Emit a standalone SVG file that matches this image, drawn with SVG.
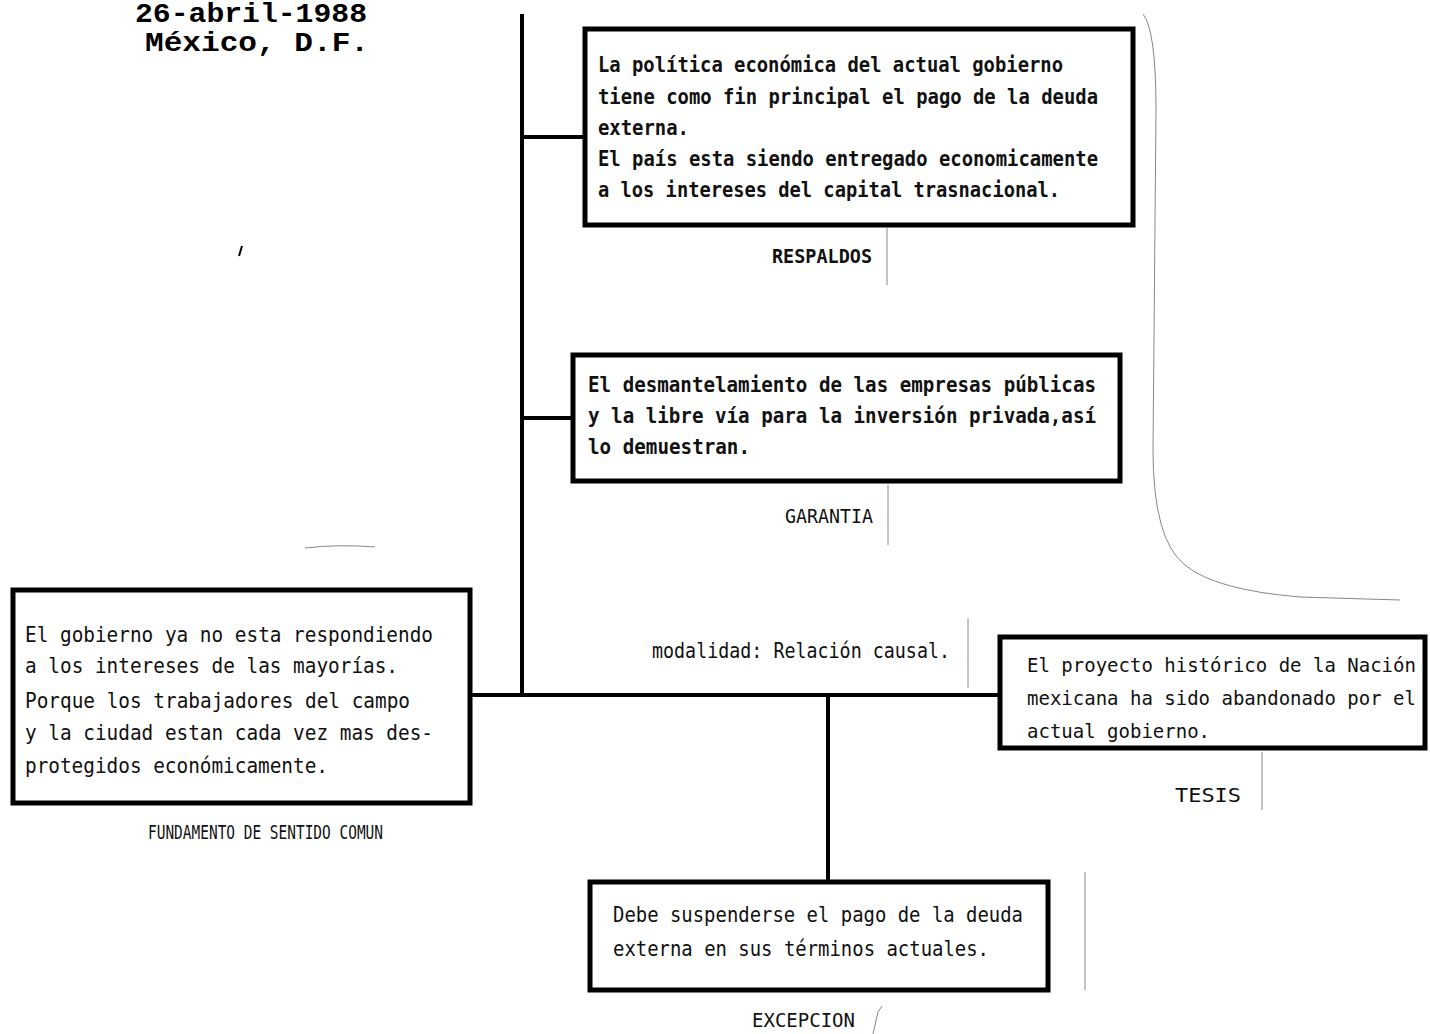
<svg xmlns="http://www.w3.org/2000/svg" width="1430" height="1034" viewBox="0 0 1430 1034">
<style>
.box{fill:#fff;stroke:#000;stroke-width:5}
.ln{stroke:#000;stroke-width:4;fill:none}
.t{font-family:"DejaVu Sans Mono","Liberation Mono",monospace;font-size:21px;fill:#111}
.ts{font-family:"DejaVu Sans Mono","Liberation Mono",monospace;font-size:19px;fill:#111}
.b{font-weight:bold}
.lab{font-family:"DejaVu Sans Mono","Liberation Mono",monospace;font-size:20px;fill:#111}
.hd{font-family:"Liberation Mono","Courier New",monospace;font-size:28px;font-weight:bold;fill:#000}
.faint{stroke:#888;stroke-width:1;fill:none}
</style>
<rect width="1430" height="1034" fill="#fff"/>
<g id="header">
<text class="hd" x="135" y="22" textLength="232" lengthAdjust="spacingAndGlyphs">26-abril-1988</text>
<text class="hd" x="145" y="51" textLength="224" lengthAdjust="spacingAndGlyphs">México, D.F.</text>
</g>
<g id="artifacts">
<path class="faint" d="M1143 14 Q1156 30 1156 110 L1153 450 Q1153 540 1185 565 Q1215 590 1300 597 L1400 600"/>
<path class="faint" d="M887 228 V285 M888 485 V545 M968 618 V688 M1262 752 V810 M1085 872 V990"/>
<path d="M242 246 L239 256" stroke="#000" stroke-width="2"/>
<path class="faint" d="M305 548 Q340 544 375 547"/>
</g>
<g id="connectors">
<path class="ln" d="M522 14 V695"/>
<path class="ln" d="M522 137 H585"/>
<path class="ln" d="M522 418 H573"/>
<path class="ln" d="M470 695 H1000"/>
<path class="ln" d="M828 695 V882"/>
</g>
<g id="n-respaldos">
<rect class="box" x="585" y="29" width="548" height="196"/>
<text class="t b" x="598" y="72" textLength="465" lengthAdjust="spacingAndGlyphs">La política económica del actual gobierno</text>
<text class="t b" x="598" y="104" textLength="500" lengthAdjust="spacingAndGlyphs">tiene como fin principal el pago de la deuda</text>
<text class="t b" x="598" y="135" textLength="91" lengthAdjust="spacingAndGlyphs">externa.</text>
<text class="t b" x="598" y="166" textLength="500" lengthAdjust="spacingAndGlyphs">El país esta siendo entregado economicamente</text>
<text class="t b" x="598" y="197" textLength="462" lengthAdjust="spacingAndGlyphs">a los intereses del capital trasnacional.</text>
<text class="lab b" x="772" y="263" textLength="100" lengthAdjust="spacingAndGlyphs">RESPALDOS</text>
</g>
<g id="n-garantia">
<rect class="box" x="573" y="355" width="547" height="126"/>
<text class="t b" x="588" y="392" textLength="508" lengthAdjust="spacingAndGlyphs">El desmantelamiento de las empresas públicas</text>
<text class="t b" x="588" y="423" textLength="508" lengthAdjust="spacingAndGlyphs">y la libre vía para la inversión privada,así</text>
<text class="t b" x="588" y="454" textLength="162" lengthAdjust="spacingAndGlyphs">lo demuestran.</text>
<text class="lab" x="785" y="523" textLength="88" lengthAdjust="spacingAndGlyphs">GARANTIA</text>
</g>
<g id="n-fundamento">
<rect class="box" x="13" y="590" width="457" height="213"/>
<text class="t" x="25" y="642" textLength="408" lengthAdjust="spacingAndGlyphs">El gobierno ya no esta respondiendo</text>
<text class="t" x="25" y="673" textLength="373" lengthAdjust="spacingAndGlyphs">a los intereses de las mayorías.</text>
<text class="t" x="25" y="708" textLength="385" lengthAdjust="spacingAndGlyphs">Porque los trabajadores del campo</text>
<text class="t" x="25" y="740" textLength="408" lengthAdjust="spacingAndGlyphs">y la ciudad estan cada vez mas des-</text>
<text class="t" x="25" y="773" textLength="303" lengthAdjust="spacingAndGlyphs">protegidos económicamente.</text>
<text class="lab" x="148" y="839" font-size="16" textLength="235" lengthAdjust="spacingAndGlyphs">FUNDAMENTO DE SENTIDO COMUN</text>
</g>
<g id="n-modalidad">
<text class="t" x="652" y="658" textLength="298" lengthAdjust="spacingAndGlyphs">modalidad: Relación causal.</text>
</g>
<g id="n-tesis">
<rect class="box" x="1000" y="637" width="425" height="111"/>
<text class="ts" x="1027" y="672">El proyecto histórico de la Nación</text>
<text class="ts" x="1027" y="705">mexicana ha sido abandonado por el</text>
<text class="ts" x="1027" y="738">actual gobierno.</text>
<text class="lab" x="1175" y="802" textLength="66" lengthAdjust="spacingAndGlyphs">TESIS</text>
</g>
<g id="n-excepcion">
<rect class="box" x="590" y="882" width="458" height="108"/>
<text class="t" x="613" y="922" textLength="410" lengthAdjust="spacingAndGlyphs">Debe suspenderse el pago de la deuda</text>
<text class="t" x="613" y="956" textLength="376" lengthAdjust="spacingAndGlyphs">externa en sus términos actuales.</text>
<text class="lab" x="752" y="1027" textLength="103" lengthAdjust="spacingAndGlyphs">EXCEPCION</text>
<path class="faint" d="M873 1034 L878 1012 L882 1006"/>
</g>
</svg>
